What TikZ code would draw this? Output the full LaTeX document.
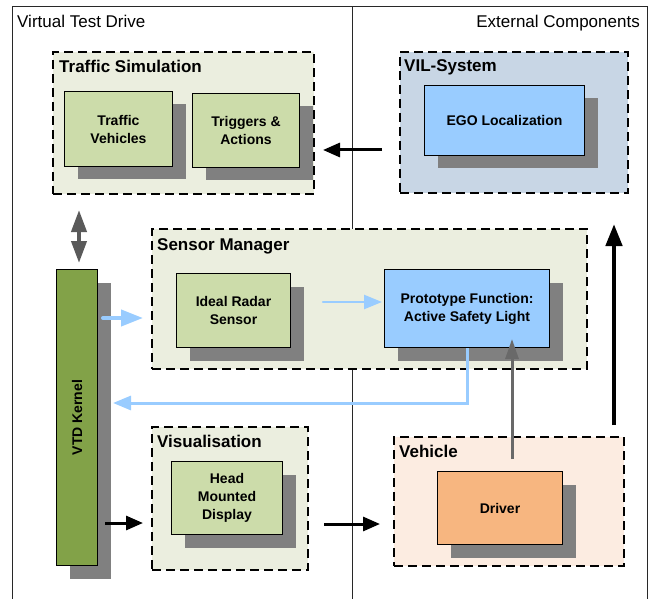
\documentclass[tikz,border=0pt]{standalone}
\usepackage{fontspec}
\setmainfont{Liberation Sans}
\usetikzlibrary{arrows.meta,shadows,calc}
\definecolor{cgreen}{RGB}{235,238,223}
\definecolor{igreen}{RGB}{204,220,170}
\definecolor{kgreen}{RGB}{130,162,72}
\definecolor{vilfill}{RGB}{200,214,229}
\definecolor{bluebox}{RGB}{153,204,255}
\definecolor{vehfill}{RGB}{252,236,225}
\definecolor{drvfill}{RGB}{247,182,128}
\definecolor{shadowgray}{RGB}{128,128,128}
\definecolor{lblue}{RGB}{153,204,255}
\definecolor{garrow}{RGB}{105,105,105}
\definecolor{darrow}{RGB}{90,90,90}
\definecolor{framecol}{RGB}{40,40,40}
\begin{document}
\begin{tikzpicture}[x=1pt,y=-1pt,
  container/.style={draw=black, dash pattern=on 9pt off 5pt, line width=2pt, inner sep=0pt, anchor=north west},
  boxnode/.style={draw=black, line width=1pt, inner sep=0pt, anchor=north west, align=center,
     font=\fontsize{14}{18}\selectfont\bfseries,
     general shadow={fill=shadowgray, shadow xshift=13pt, shadow yshift=-13pt}},
  titletext/.style={anchor=base west, inner sep=0pt, font=\fontsize{17}{20}\selectfont\bfseries},
  toptext/.style={inner sep=0pt, font=\fontsize{17}{20}\selectfont},
  blackarr/.style={draw=black, line width=3pt, -{Triangle[length=17pt,width=14pt]}},
  bigarr/.style={draw=black, line width=4.5pt, -{Triangle[length=22pt,width=16pt]}},
  bluearr/.style={draw=lblue, line width=3pt, line cap=round, -{Triangle[length=18pt,width=14pt]}},
  grayarr/.style={draw=garrow, line width=3pt, -{Triangle[length=20pt,width=13pt]}},
  dblarr/.style={draw=darrow, line width=4pt, {Triangle[length=22pt,width=15pt]}-{Triangle[length=22pt,width=15pt]}}
]
\useasboundingbox (0,0) rectangle (659,599);
% outer frame
\draw[framecol, line width=1pt] (12,599) -- (12,7) -- (647,7) -- (647,599);
\draw[framecol, line width=1pt] (352,7) -- (352,599);
\node[toptext, anchor=base west] (vtdlabel) at (17,27.5) {Virtual Test Drive};
\node[toptext, anchor=base east] (extlabel) at (640,27.5) {External Components};

% containers
\node[container, fill=cgreen, minimum width=261, minimum height=142] (ts) at (52,51) {};
\node[titletext] (tstitle) at (59,72.5) {Traffic Simulation};
\node[container, fill=vilfill, minimum width=228, minimum height=141] (vil) at (399,51) {};
\node[titletext] (viltitle) at (404,72) {VIL-System};
\node[container, fill=cgreen, minimum width=435, minimum height=140] (sm) at (151,228) {};
\node[titletext] (smtitle) at (157,250) {Sensor Manager};
\node[container, fill=cgreen, minimum width=156, minimum height=143] (vis) at (151,426) {};
\node[titletext] (vistitle) at (157,447) {Visualisation};
\node[container, fill=vehfill, minimum width=230, minimum height=129] (veh) at (393,436) {};
\node[titletext] (vehtitle) at (399,457) {Vehicle};

% boxes
\node[boxnode, fill=igreen, minimum width=108, minimum height=75] (tv) at (64,91) {Traffic\\Vehicles};
\node[boxnode, fill=igreen, minimum width=107, minimum height=74] (ta) at (192,93) {Triggers \&\\Actions};
\node[boxnode, fill=bluebox, minimum width=160, minimum height=70] (ego) at (424,85) {EGO Localization};
\node[boxnode, fill=kgreen, minimum width=41, minimum height=296] (kernel) at (56,269) {};
\node[rotate=90, inner sep=0pt, font=\fontsize{14}{18}\selectfont\bfseries] (kerneltext) at (kernel.center) {VTD Kernel};
\node[boxnode, fill=igreen, minimum width=114, minimum height=74] (radar) at (176,273) {Ideal Radar\\Sensor};
\node[boxnode, fill=bluebox, minimum width=165, minimum height=78] (proto) at (384,269) {Prototype Function:\\Active Safety Light};
\node[boxnode, fill=igreen, minimum width=111, minimum height=73] (hmd) at (171,461) {Head\\Mounted\\Display};
\node[boxnode, fill=drvfill, minimum width=125, minimum height=73] (driver) at (437,471) {Driver};

% helper coordinates
\coordinate (dx) at (79,0);
\coordinate (y1) at (0,318);
\coordinate (y2) at (0,302);
\coordinate (fb) at (467,403);
\coordinate (gx) at (512,0);
\coordinate (bx) at (614,0);
\coordinate (y3) at (0,523);
\coordinate (y4) at (0,524);
\coordinate (y5) at (0,150);

% connectors
\draw[dblarr, shorten <=15pt, shorten >=6pt] (ts.south -| dx) -- (kernel.north -| dx);
\draw[blackarr, shorten <=17pt, shorten >=8pt] (vil.west |- y5) -- (ts.east |- y5);
\draw[draw=lblue, line width=4pt, line cap=round, -{Triangle[length=22pt,width=16pt]}, shorten <=5pt, shorten >=8pt] (kernel.east |- y1) -- (sm.west |- y1);
\draw[bluearr, line width=2.5pt, shorten <=32pt, shorten >=2pt] (radar.east |- y2) -- (proto.west |- y2);
\draw[bluearr, line cap=butt] (proto.south -| fb) |- ([xshift=15pt]kernel.east |- fb);
\draw[grayarr, shorten <=12pt, shorten >=-9pt] (driver.north -| gx) -- (proto.south -| gx);
\draw[bigarr, shorten <=11pt, shorten >=30pt] (veh.north -| bx) -- (vil.south -| bx);
\draw[blackarr, shorten <=7pt, shorten >=8pt] (kernel.east |- y3) -- (vis.west |- y3);
\draw[blackarr, shorten <=15pt, shorten >=13pt] (vis.east |- y4) -- (veh.west |- y4);
\end{tikzpicture}
\end{document}
